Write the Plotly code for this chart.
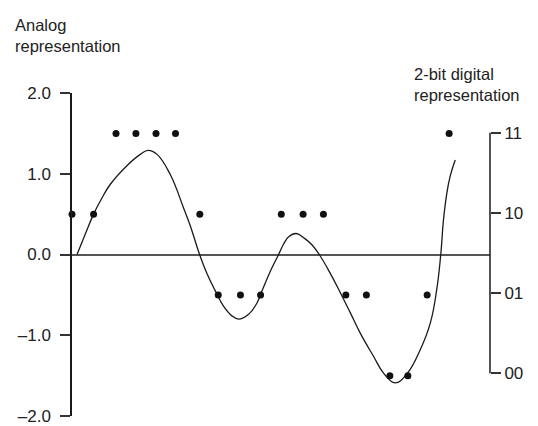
import plotly.graph_objects as go

# Analog waveform, traced as (time, amplitude) pairs
curve_t = [0.24, 0.63, 1.03, 1.43, 1.83, 2.62, 3.26, 3.63, 4.06, 4.69,
           5.32, 5.64, 6.09, 6.44, 6.84, 7.23, 7.63, 7.95, 8.43, 8.83,
           9.07, 9.46, 9.86, 10.10, 10.34, 10.70, 11.10, 11.45, 11.80, 12.32,
           12.80, 13.28, 13.75, 14.39, 14.87, 15.42, 16.01, 16.62, 17.10, 17.41,
           17.60, 17.73, 17.89, 18.05, 18.29]
curve_v = [0.0, 0.25, 0.50, 0.70, 0.87, 1.10, 1.24, 1.29, 1.24, 0.99,
           0.58, 0.36, 0.0, -0.235, -0.45, -0.64, -0.76, -0.80, -0.74, -0.60,
           -0.45, -0.21, 0.0, 0.13, 0.22, 0.26, 0.20, 0.12, 0.0, -0.23,
           -0.47, -0.72, -0.97, -1.26, -1.47, -1.59, -1.47, -1.18, -0.85, -0.43,
           0.0, 0.43, 0.76, 0.97, 1.17]

# Sampling instants and the 2-bit code assigned at each
sample_t = [0.0, 1.03, 2.10, 3.05, 4.01, 4.94, 6.10, 6.98, 8.04, 9.0, 9.99,
            11.03, 12.0, 13.07, 14.05, 15.17, 16.03, 16.95, 18.0]
sample_codes = ["10", "10", "11", "11", "11", "11", "10", "01", "01", "01", "10",
                "10", "10", "01", "01", "00", "00", "01", "11"]

# Quantisation levels for each code (in analog units)
codes = ["00", "01", "10", "11"]
code_levels = [-1.5, -0.5, 0.5, 1.5]
level_of = dict(zip(codes, code_levels))
sample_v = [level_of[c] for c in sample_codes]

# Left-axis ticks
left_ticks = [-2.0, -1.0, 0.0, 1.0, 2.0]
left_labels = ["\u20132.0", "\u20131.0", "0.0", "1.0", "2.0"]

FONT = "Liberation Sans, Arial, Helvetica, sans-serif"
INK = "#1a1a1a"
TXT = "#222222"

fig = go.Figure()

fig.add_trace(go.Scatter(
    x=curve_t, y=curve_v, mode="lines",
    line=dict(color=INK, width=1.3, shape="spline", smoothing=1.2),
    hoverinfo="skip", showlegend=False,
))

fig.add_trace(go.Scatter(
    x=sample_t, y=sample_v, mode="markers",
    marker=dict(color="#111111", size=7),
    cliponaxis=False, showlegend=False,
))

# Invisible trace that carries the right-hand digital axis
fig.add_trace(go.Scatter(
    x=[sample_t[0]], y=[code_levels[0]], yaxis="y2", mode="markers",
    marker=dict(opacity=0), hoverinfo="skip", showlegend=False,
))

fig.update_layout(
    width=538, height=426,
    margin=dict(l=72, r=48, t=93, b=10),
    paper_bgcolor="white", plot_bgcolor="white",
    font=dict(family=FONT, size=16, color=TXT),
    xaxis=dict(visible=False, range=[0.0, 19.95]),
    yaxis=dict(
        range=[-2.0, 2.0], tickvals=left_ticks, ticktext=left_labels,
        automargin=False, ticklabelstandoff=6,
        showgrid=False, showline=True, linecolor=INK, linewidth=1.5,
        ticks="outside", ticklen=10, tickwidth=1.5, tickcolor="#333333",
        zeroline=True, zerolinecolor="#555555", zerolinewidth=2,
        tickfont=dict(size=17, family=FONT, color=TXT),
    ),
    yaxis2=dict(
        overlaying="y", side="right", range=[-2.032, 1.995],
        tickvals=code_levels, ticktext=codes, automargin=False,
        showgrid=False, showline=False, zeroline=False,
        ticks="outside", ticklen=10, tickwidth=1.5, tickcolor="#333333",
        tickfont=dict(size=17, family=FONT, color=TXT),
    ),
    shapes=[dict(
        type="line", xref="paper", x0=1, x1=1, yref="y2",
        y0=code_levels[0], y1=code_levels[-1],
        line=dict(color=INK, width=1.5),
    )],
    annotations=[
        dict(text="Analog<br>representation", xref="paper", yref="paper",
             x=-0.141, y=1.246, xanchor="left", yanchor="top", align="left",
             showarrow=False, font=dict(size=16.5, family=FONT, color=TXT)),
        dict(text="2-bit digital<br>representation", xref="paper", yref="paper",
             x=0.813, y=1.094, xanchor="left", yanchor="top", align="left",
             showarrow=False, font=dict(size=16.5, family=FONT, color=TXT)),
    ],
)

fig.write_html("out.html")
